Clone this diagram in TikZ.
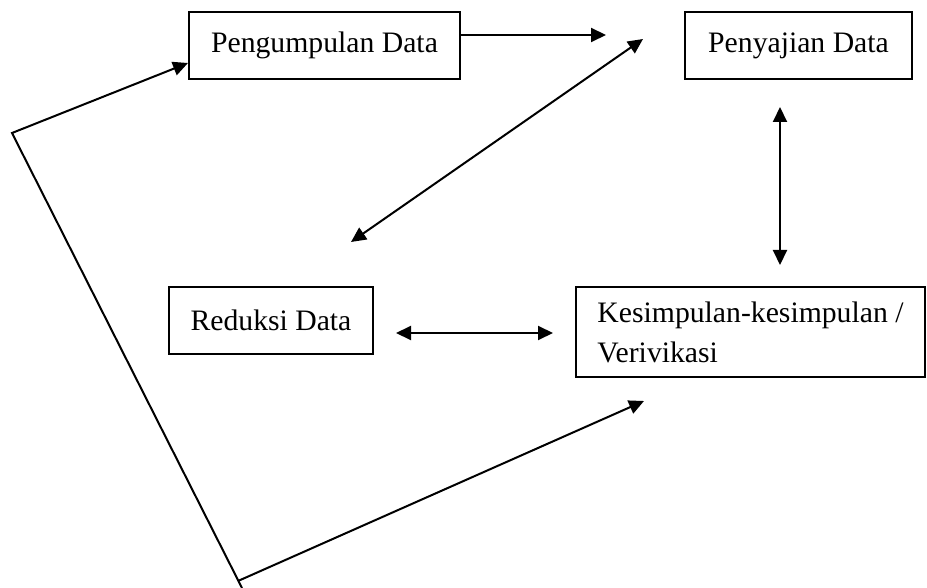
\documentclass[tikz,border=0pt]{standalone}
\usepackage{fontspec}
\setmainfont{Liberation Serif}
\usetikzlibrary{arrows.meta}
\begin{document}
\begin{tikzpicture}[x=1pt,y=-1pt,
  box/.style={draw,line width=2pt,inner sep=0pt,font=\fontsize{29.7}{40}\selectfont},
  link/.style={line width=2pt},
  arr/.style={link,-{Triangle[length=15pt,width=14pt]}},
  darr/.style={link,{Triangle[length=15pt,width=14pt]}-{Triangle[length=15pt,width=14pt]}}]
\useasboundingbox (0,0) rectangle (927,588);
\node[box,minimum width=271pt,minimum height=67pt] (peng) at (324.5,45.5) {Pengumpulan Data};
\node[box,minimum width=227pt,minimum height=67pt] (peny) at (798.5,45.5) {Penyajian Data};
\node[box,minimum width=204pt,minimum height=67pt] (red) at (271,320.5) {Reduksi Data};
\node[box,minimum width=349pt,minimum height=90pt,align=left] (kes) at (750.5,332) {Kesimpulan-kesimpulan /\\Verivikasi};
\coordinate (t1) at (606,35);
\coordinate (d1) at (643,39);
\coordinate (d2) at (351,242);
\coordinate (v1) at (780,107);
\coordinate (v2) at (780,265);
\coordinate (h1) at (396,333);
\coordinate (h2) at (553,333);
\coordinate (lb) at (242,588);
\coordinate (lc) at (12,133);
\coordinate (bc) at (238,581);
\coordinate (bt) at (644,401);
\draw[arr] (peng.east |- t1) -- (t1);
\draw[darr] (d1) -- (d2);
\draw[darr] (v1) -- (v2);
\draw[darr] (h1) -- (h2);
\draw[arr] (lb) -- (lc) -- ([yshift=-17.5pt]peng.west);
\draw[arr] (bc) -- (bt);
\end{tikzpicture}
\end{document}
